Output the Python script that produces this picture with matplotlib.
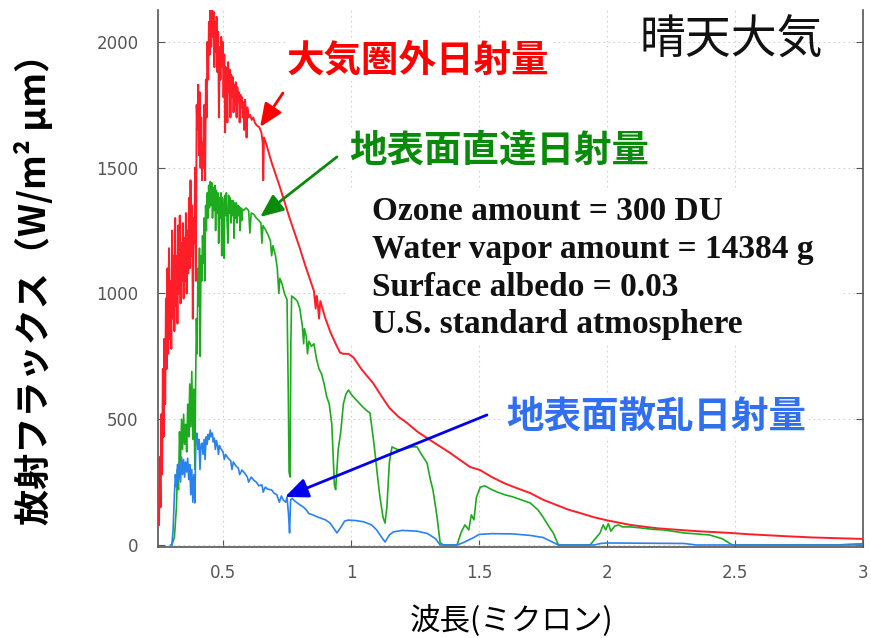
import matplotlib
matplotlib.use('Agg')
import matplotlib.pyplot as plt
from matplotlib.patches import Rectangle

plt.rcParams['font.family'] = ['Noto Sans CJK JP', 'DejaVu Sans']

# Extraterrestrial solar irradiance (W/m2 um)
toa_wl = [0.250, 0.253, 0.256, 0.259, 0.262, 0.265, 0.268, 0.271, 0.274, 0.277,
          0.280, 0.283, 0.286, 0.289, 0.292, 0.295, 0.298, 0.301, 0.304, 0.307,
          0.310, 0.313, 0.316, 0.319, 0.322, 0.325, 0.328, 0.331, 0.334, 0.337,
          0.340, 0.343, 0.346, 0.349, 0.352, 0.355, 0.358, 0.361, 0.364, 0.367,
          0.370, 0.373, 0.376, 0.379, 0.382, 0.385, 0.388, 0.391, 0.394, 0.397,
          0.400, 0.403, 0.406, 0.409, 0.412, 0.415, 0.418, 0.421, 0.424, 0.427,
          0.430, 0.433, 0.436, 0.439, 0.442, 0.445, 0.448, 0.451, 0.454, 0.457,
          0.460, 0.463, 0.466, 0.469, 0.472, 0.475, 0.478, 0.481, 0.484, 0.487,
          0.490, 0.493, 0.496, 0.499, 0.502, 0.505, 0.508, 0.511, 0.514, 0.517,
          0.520, 0.523, 0.526, 0.529, 0.532, 0.535, 0.538, 0.541, 0.544, 0.547,
          0.550, 0.553, 0.556, 0.559, 0.562, 0.565, 0.568, 0.571, 0.574, 0.577,
          0.580, 0.583, 0.586, 0.589, 0.592, 0.595, 0.600, 0.606, 0.612, 0.618,
          0.624, 0.630, 0.636, 0.642, 0.650, 0.655, 0.657, 0.660, 0.670, 0.680,
          0.690, 0.700, 0.720, 0.740, 0.760, 0.780, 0.800, 0.820, 0.840, 0.855,
          0.862, 0.866, 0.870, 0.875, 0.880, 0.900, 0.920, 0.940, 0.957, 0.970,
          0.990, 1.010, 1.040, 1.060, 1.086, 1.120, 1.150, 1.185, 1.219, 1.260,
          1.309, 1.350, 1.387, 1.430, 1.465, 1.504, 1.550, 1.600, 1.650, 1.699,
          1.750, 1.800, 1.850, 1.895, 1.950, 2.000, 2.090, 2.150, 2.200, 2.285,
          2.350, 2.480, 2.550, 2.676, 2.800, 2.900, 3.000]
toa_flux = [80, 350, 150, 520, 280, 700, 430, 820, 560, 980,
            700, 1100, 760, 1180, 820, 1050, 780, 1250, 900, 1150,
            850, 1300, 950, 1150, 880, 1270, 1000, 1310, 960, 1200,
            1050, 1280, 980, 1220, 1050, 1320, 1000, 1250, 1080, 1380,
            1100, 1450, 1150, 1350, 900, 1300, 1200, 1500, 1050, 1750,
            1650, 1830, 1550, 1800, 1500, 1700, 1450, 1600, 1500, 1750,
            1450, 1850, 1700, 2000, 1850, 2080, 1950, 2130, 1980, 2140,
            2020, 2120, 1900, 2080, 1960, 2100, 1880, 2040, 1700, 1980,
            1850, 2020, 1900, 2000, 1780, 1950, 1640, 1900, 1820, 1680,
            1920, 1800, 1890, 1700, 1870, 1780, 1860, 1720, 1830, 1750,
            1840, 1700, 1820, 1760, 1800, 1680, 1790, 1740, 1780, 1700,
            1760, 1650, 1770, 1720, 1620, 1740, 1700, 1710, 1690, 1700,
            1680, 1670, 1665, 1660, 1640, 1600, 1450, 1620, 1590, 1555,
            1520, 1490, 1430, 1365, 1300, 1240, 1180, 1115, 1055, 1010,
            940, 990, 960, 900, 970, 900, 845, 800, 765, 760,
            760, 745, 700, 675, 644, 590, 545, 510, 485, 450,
            417, 390, 366, 335, 310, 298, 270, 245, 225, 207,
            180, 160, 140, 127, 110, 98, 80, 72, 66, 60,
            55, 48, 43, 36, 30, 27, 24]

# Direct irradiance at the surface
dir_wl = [0.300, 0.310, 0.318, 0.322, 0.326, 0.330, 0.334, 0.338, 0.342, 0.346,
          0.350, 0.354, 0.358, 0.362, 0.366, 0.370, 0.374, 0.378, 0.382, 0.386,
          0.390, 0.393, 0.396, 0.399, 0.402, 0.405, 0.408, 0.411, 0.414, 0.417,
          0.420, 0.423, 0.426, 0.429, 0.432, 0.435, 0.438, 0.441, 0.444, 0.447,
          0.450, 0.453, 0.456, 0.459, 0.462, 0.465, 0.468, 0.471, 0.474, 0.477,
          0.480, 0.483, 0.486, 0.489, 0.492, 0.495, 0.498, 0.501, 0.504, 0.507,
          0.510, 0.513, 0.516, 0.519, 0.522, 0.525, 0.528, 0.531, 0.534, 0.537,
          0.540, 0.543, 0.546, 0.549, 0.552, 0.555, 0.558, 0.561, 0.564, 0.567,
          0.570, 0.573, 0.576, 0.580, 0.590, 0.600, 0.605, 0.610, 0.620, 0.630,
          0.640, 0.648, 0.652, 0.656, 0.665, 0.675, 0.685, 0.690, 0.695, 0.705,
          0.712, 0.718, 0.722, 0.730, 0.740, 0.750, 0.755, 0.758, 0.762, 0.765,
          0.768, 0.780, 0.790, 0.800, 0.810, 0.815, 0.818, 0.825, 0.830, 0.835,
          0.845, 0.855, 0.865, 0.875, 0.885, 0.895, 0.905, 0.915, 0.925, 0.935,
          0.940, 0.950, 0.960, 0.970, 0.980, 0.990, 1.000, 1.020, 1.040, 1.060,
          1.074, 1.090, 1.105, 1.113, 1.125, 1.133, 1.140, 1.150, 1.160, 1.180,
          1.200, 1.220, 1.240, 1.258, 1.275, 1.297, 1.310, 1.320, 1.335, 1.348,
          1.360, 1.414, 1.430, 1.445, 1.460, 1.470, 1.480, 1.490, 1.505, 1.523,
          1.550, 1.570, 1.600, 1.633, 1.670, 1.700, 1.730, 1.750, 1.775, 1.790,
          1.810, 1.934, 1.950, 1.973, 1.985, 1.995, 2.005, 2.015, 2.030, 2.045,
          2.060, 2.090, 2.130, 2.180, 2.220, 2.300, 2.400, 2.450, 2.490, 2.900,
          2.950, 3.000]
dir_flux = [0, 30, 150, 300, 220, 450, 330, 500, 380, 520,
            400, 480, 370, 560, 430, 640, 470, 690, 420, 620,
            300, 650, 900, 760, 1100, 950, 1180, 750, 1150, 1050,
            1230, 1120, 1300, 1050, 1350, 1250, 1400, 1300, 1430, 1340,
            1445, 1350, 1440, 1300, 1420, 1330, 1430, 1250, 1410, 1320,
            1400, 1200, 1380, 1300, 1400, 1150, 1380, 1300, 1140, 1390,
            1310, 1400, 1280, 1200, 1390, 1320, 1380, 1280, 1370, 1310,
            1370, 1220, 1360, 1300, 1360, 1280, 1350, 1310, 1345, 1250,
            1340, 1290, 1335, 1330, 1340, 1330, 1240, 1320, 1315, 1300,
            1290, 1280, 1200, 1270, 1255, 1235, 1210, 1150, 1190, 1150,
            1100, 1000, 1060, 1040, 1000, 975, 600, 290, 270, 800,
            990, 980, 970, 940, 870, 800, 860, 830, 760, 810,
            790, 800, 740, 700, 680, 640, 590, 560, 480, 240,
            220, 380, 450, 560, 600, 616, 600, 577, 555, 535,
            525, 400, 260, 191, 110, 87, 150, 330, 390, 380,
            378, 385, 390, 390, 360, 326, 260, 219, 120, 10,
            0, 0, 50, 80, 60, 120, 100, 190, 230, 235,
            220, 211, 200, 191, 178, 167, 140, 111, 70, 48,
            0, 0, 20, 48, 80, 60, 85, 55, 75, 80,
            72, 72, 68, 62, 60, 48, 40, 25, 0, 0,
            3, 5]

# Diffuse irradiance at the surface
dif_wl = [0.295, 0.300, 0.305, 0.310, 0.314, 0.318, 0.322, 0.326, 0.330, 0.334,
          0.338, 0.342, 0.346, 0.350, 0.354, 0.358, 0.362, 0.366, 0.370, 0.374,
          0.378, 0.382, 0.386, 0.390, 0.394, 0.398, 0.402, 0.406, 0.410, 0.414,
          0.418, 0.422, 0.426, 0.430, 0.434, 0.438, 0.442, 0.446, 0.450, 0.454,
          0.458, 0.462, 0.466, 0.470, 0.474, 0.478, 0.482, 0.486, 0.490, 0.495,
          0.500, 0.505, 0.510, 0.520, 0.530, 0.535, 0.540, 0.550, 0.560, 0.565,
          0.574, 0.585, 0.595, 0.600, 0.610, 0.620, 0.630, 0.640, 0.652, 0.657,
          0.665, 0.675, 0.690, 0.700, 0.710, 0.720, 0.728, 0.735, 0.745, 0.750,
          0.756, 0.760, 0.764, 0.770, 0.780, 0.800, 0.815, 0.825, 0.835, 0.850,
          0.870, 0.900, 0.918, 0.930, 0.945, 0.960, 0.975, 0.990, 1.020, 1.050,
          1.080, 1.100, 1.120, 1.133, 1.150, 1.165, 1.200, 1.258, 1.300, 1.330,
          1.348, 1.414, 1.440, 1.480, 1.500, 1.550, 1.633, 1.700, 1.750, 1.790,
          1.810, 1.950, 1.975, 2.000, 2.300, 2.350, 3.000]
dif_flux = [0, 0, 60, 200, 280, 230, 320, 260, 330, 250,
            350, 280, 340, 270, 330, 290, 345, 260, 320, 200,
            300, 170, 280, 167, 420, 445, 380, 420, 300, 400,
            405, 360, 420, 340, 430, 400, 440, 420, 457, 430,
            445, 410, 425, 380, 415, 400, 360, 395, 385, 378,
            370, 340, 360, 345, 335, 300, 330, 315, 305, 280,
            298, 285, 270, 250, 270, 258, 250, 235, 239, 210,
            230, 222, 219, 205, 200, 170, 195, 179, 170, 191,
            120, 48, 180, 185, 175, 160, 150, 140, 125, 120,
            111, 100, 87, 70, 48, 70, 95, 99, 97, 92,
            80, 60, 30, 12, 40, 52, 58, 55, 45, 25,
            0, 0, 10, 30, 42, 45, 44, 38, 30, 10,
            0, 0, 6, 8, 6, 0, 0]

x_ticks = [0.5, 1, 1.5, 2, 2.5, 3]
x_ticklabels = ['0.5', '1', '1.5', '2', '2.5', '3']
y_ticks = [0, 500, 1000, 1500, 2000]

info_lines = ['Ozone amount = 300 DU',
              'Water vapor amount = 14384 g',
              'Surface albedo = 0.03',
              'U.S. standard atmosphere']

W, H = 871, 638
fig = plt.figure(figsize=(W / 100, H / 100), dpi=100)
ax = fig.add_axes([158 / W, 1 - 547 / H, (863 - 158) / W, (547 - 10) / H])

ax.plot(toa_wl, toa_flux, color='#ff1e28', lw=1.4, zorder=3)
ax.plot(dir_wl, dir_flux, color='#1eaa1e', lw=1.2, zorder=4)
ax.plot(dif_wl, dif_flux, color='#2a82ee', lw=1.2, zorder=5)

ax.set_xlim(0.246, 3.0)
ax.set_ylim(-8, 2127)
ax.set_xticks(x_ticks)
ax.set_xticklabels(x_ticklabels)
ax.set_yticks(y_ticks)
ax.set_axisbelow(True)
ax.grid(True, color='#d0d0d0', ls=(0, (1.5, 3)), lw=0.8)
ax.tick_params(direction='in', length=5, color='#555555', labelcolor='#555555',
               labelsize=12, right=True, top=False)
ax.tick_params(axis='x', pad=12)
ax.tick_params(axis='y', pad=14)
for lab in ax.get_xticklabels() + ax.get_yticklabels():
    lab.set_family('DejaVu Sans')
ax.spines['top'].set_visible(False)
for side in ['left', 'bottom', 'right']:
    ax.spines[side].set_color('#555555')
    ax.spines[side].set_linewidth(1.2)

# white panel behind the run parameters
ax.add_patch(Rectangle((0.988, 795), 2.91 - 0.988, 1411 - 795,
                       facecolor='white', edgecolor='none', zorder=1))
for i, line in enumerate(info_lines):
    fig.text(372 / W, 1 - (212 + 37.5 * i) / H, line, family='Liberation Serif',
             weight='bold', fontsize=24, color='#111111', va='center', ha='left')

lbl = dict(fontsize=27, weight='bold', ha='center', va='center',
           bbox=dict(facecolor='white', edgecolor='none', pad=1))
ax.text(1.262, 1928, '大気圏外日射量', color='#ff0000', **lbl)
ax.text(1.578, 1570, '地表面直達日射量', color='#0a8a0a', **lbl)
ax.text(2.191, 513, '地表面散乱日射量', color='#2f6ff0', **lbl)

arrow = dict(arrowstyle='-|>,head_length=0.7,head_width=0.3', lw=2,
             shrinkA=0, shrinkB=0, mutation_scale=20)
ax.annotate('', xy=(0.645, 1662), xytext=(0.734, 1797),
            arrowprops=dict(color='#ff0000', **arrow), zorder=6)
ax.annotate('', xy=(0.645, 1304), xytext=(0.945, 1543),
            arrowprops=dict(color='#0a8a0a', **arrow), zorder=6)
ax.annotate('', xy=(0.742, 191), xytext=(1.531, 517),
            arrowprops=dict(color='#0000ee', **arrow), zorder=6)

fig.text(731 / W, 1 - 40 / H, '晴天大気', fontsize=33, color='#111111',
         ha='center', va='center')
fig.text(35 / W, 1 - 280 / H, '放射フラックス（W/m² μm）', fontsize=26,
         weight='bold', rotation=90, ha='center', va='center')
fig.text(512 / W, 1 - 621 / H, '波長(ミクロン)', fontsize=22,
         ha='center', va='center')

fig.savefig('out.png', dpi=100)
